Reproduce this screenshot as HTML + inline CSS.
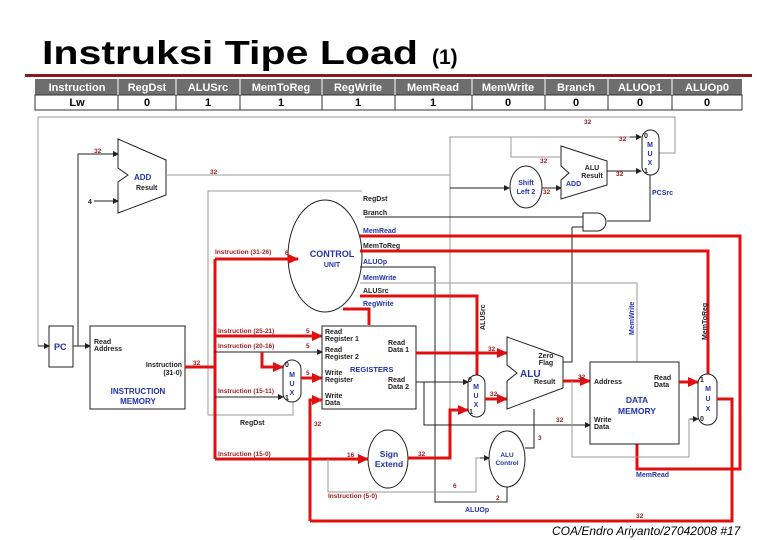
<!DOCTYPE html>
<html><head><meta charset="utf-8"><style>
body{margin:0;background:#fff;}
svg{display:block;font-family:"Liberation Sans",sans-serif;}
.t{font-size:7px;font-weight:bold;fill:#222}
.b{font-weight:bold;fill:#2233aa}
.r{font-size:6.5px;font-weight:bold;fill:#a02020}
.k{stroke:#222;stroke-width:1;fill:none}
.g{stroke:#999;stroke-width:1;fill:none}
.R{stroke:#e01010;stroke-width:3;fill:none}
</style></head><body>
<svg width="780" height="540" viewBox="0 0 780 540" xmlns="http://www.w3.org/2000/svg">
<defs>
<marker id="a" markerWidth="6" markerHeight="6" refX="5" refY="3" orient="auto" markerUnits="userSpaceOnUse"><path d="M0,0L6,3L0,6z" fill="#222"/></marker>
<marker id="ar" markerWidth="12" markerHeight="10" refX="10" refY="5" orient="auto" markerUnits="userSpaceOnUse"><path d="M0,0L11,5L0,10z" fill="#e01010"/></marker>
</defs>
<text x="42" y="64" font-size="33" font-weight="bold" fill="#000" textLength="376" lengthAdjust="spacingAndGlyphs">Instruksi Tipe Load</text>
<text x="432" y="64" font-size="21" font-weight="bold" fill="#000">(1)</text>
<rect x="25" y="74" width="727" height="3" fill="#8a1a1a"/>
<rect x="35" y="79" width="707" height="16" fill="#6e6e6e"/>
<rect x="35" y="95" width="707" height="15" fill="#fff" stroke="#333" stroke-width="1"/>
<g stroke="#fff" stroke-width="1"><line x1="118" y1="79" x2="118" y2="95"/><line x1="176" y1="79" x2="176" y2="95"/><line x1="240" y1="79" x2="240" y2="95"/><line x1="322" y1="79" x2="322" y2="95"/><line x1="395" y1="79" x2="395" y2="95"/><line x1="472" y1="79" x2="472" y2="95"/><line x1="545" y1="79" x2="545" y2="95"/><line x1="608" y1="79" x2="608" y2="95"/><line x1="672" y1="79" x2="672" y2="95"/></g>
<g stroke="#333" stroke-width="1"><line x1="118" y1="95" x2="118" y2="110"/><line x1="176" y1="95" x2="176" y2="110"/><line x1="240" y1="95" x2="240" y2="110"/><line x1="322" y1="95" x2="322" y2="110"/><line x1="395" y1="95" x2="395" y2="110"/><line x1="472" y1="95" x2="472" y2="110"/><line x1="545" y1="95" x2="545" y2="110"/><line x1="608" y1="95" x2="608" y2="110"/><line x1="672" y1="95" x2="672" y2="110"/></g>
<g font-size="11" font-weight="bold" fill="#fff" text-anchor="middle">
<text x="77" y="91">Instruction</text><text x="147" y="91">RegDst</text><text x="208" y="91">ALUSrc</text><text x="281" y="91">MemToReg</text><text x="358" y="91">RegWrite</text><text x="433" y="91">MemRead</text><text x="508" y="91">MemWrite</text><text x="576" y="91">Branch</text><text x="640" y="91">ALUOp1</text><text x="707" y="91">ALUOp0</text></g>
<g font-size="11" font-weight="bold" fill="#000" text-anchor="middle">
<text x="77" y="106">Lw</text><text x="147" y="106">0</text><text x="208" y="106">1</text><text x="281" y="106">1</text><text x="358" y="106">1</text><text x="433" y="106">1</text><text x="508" y="106">0</text><text x="576" y="106">0</text><text x="640" y="106">0</text><text x="707" y="106">0</text></g>

<path class="g" d="M38,346 V117 H675 V153 H659"/>
<path class="k" d="M38,346 H49" marker-end="url(#a)"/>
<text class="r" x="584" y="124">32</text>
<rect x="49" y="326" width="24" height="41" fill="#fff" stroke="#222"/>
<text x="54" y="350" font-size="9" class="b">PC</text>
<path class="k" d="M73,346 H90" marker-end="url(#a)"/>
<path class="k" d="M78,346 V154 H118" marker-end="url(#a)"/>
<text class="r" x="94" y="153">32</text>
<polygon points="118,139 166,160 166,195 118,213 118,182 128,175 118,168" fill="#fff" stroke="#222"/>
<text x="134" y="180" font-size="8" class="b">ADD</text>
<text x="136" y="190" class="t">Result</text>
<text x="88" y="204" class="t">4</text>
<path class="k" d="M94,201 H118" marker-end="url(#a)"/>
<path class="g" d="M166,175 H450 V137 H641" stroke="#666"/>
<path class="k" d="M630,137 H641" marker-end="url(#a)"/>
<text class="r" x="210" y="174">32</text><text class="r" x="619" y="141">32</text>
<path class="g" d="M511,137 V157 H560" stroke="#666"/>
<text class="r" x="540" y="163">32</text>
<path class="g" d="M450,175 V458" stroke="#777"/>
<path class="k" d="M450,188 H509" marker-end="url(#a)"/>
<ellipse cx="526" cy="187" rx="16" ry="21" fill="#fff" stroke="#222"/>
<text x="526" y="185" font-size="7" class="b" text-anchor="middle">Shift</text>
<text x="526" y="194" font-size="7" class="b" text-anchor="middle">Left 2</text>
<path class="k" d="M542,188 H561" marker-end="url(#a)"/>
<text class="r" x="543" y="194">32</text>
<polygon points="561,146 607,161 607,185 561,199 561,180 569,173 561,166" fill="#fff" stroke="#222"/>
<text x="592" y="170" class="t" text-anchor="middle">ALU</text><text x="592" y="178" class="t" text-anchor="middle">Result</text>
<text x="566" y="186" font-size="7" class="b">ADD</text>
<path class="k" d="M607,171 H641" marker-end="url(#a)"/>
<text class="r" x="616" y="176">32</text>
<rect x="642" y="130" width="17" height="45" rx="8.5" fill="#fff" stroke="#222"/>
<g font-size="7" font-weight="bold" text-anchor="middle"><text x="646" y="138" fill="#222">0</text><text x="650" y="147" fill="#2233aa">M</text><text x="650" y="156" fill="#2233aa">U</text><text x="650" y="165" fill="#2233aa">X</text><text x="646" y="173" fill="#222">1</text></g>
<text x="652" y="195" font-size="7" class="b">PCSrc</text>
<path class="k" d="M650,175 V221 H607"/>
<path d="M583,213 H597 A9,9 0 0 1 597,231 H583 Z" fill="#fff" stroke="#222"/>
<path class="k" d="M365,217 H583"/>
<path class="k" d="M572,227 H583 M572,227 V362 H563"/>

<path class="g" d="M362,191 H208 V415 H293 V401"/>
<ellipse cx="325" cy="256" rx="37" ry="56" fill="#fff" stroke="#222"/>
<text x="332" y="257" font-size="9" class="b" text-anchor="middle">CONTROL</text>
<text x="332" y="267" font-size="7" class="b" text-anchor="middle">UNIT</text>
<g font-size="7" font-weight="bold">
<text x="363" y="201" fill="#222">RegDst</text><text x="363" y="215" fill="#222">Branch</text>
<text x="363" y="233" fill="#2233aa">MemRead</text><text x="363" y="248" fill="#222">MemToReg</text>
<text x="363" y="264" fill="#2233aa">ALUOp</text><text x="363" y="280" fill="#2233aa">MemWrite</text>
<text x="363" y="293" fill="#222">ALUSrc</text><text x="363" y="306" fill="#2233aa">RegWrite</text></g>
<path class="R" d="M360,236 H740 V469 H637 V444" stroke-width="2"/>
<path class="R" d="M360,251 H708 V374" stroke-width="2"/>
<path class="k" d="M360,267 H435 V502 H507 V487"/>
<path class="g" d="M360,283 H637 V362" stroke="#444"/>
<path class="R" d="M360,296 H477 V375" stroke-width="2"/>
<path class="R" d="M343,309 H369 V325" stroke-width="2"/>
<text transform="translate(485,330) rotate(-90)" class="t">ALUSrc</text>
<text transform="translate(634,335) rotate(-90)" font-size="7" class="b">MemWrite</text>
<text transform="translate(707,340) rotate(-90)" class="t">MemToReg</text>

<rect x="90" y="326" width="95" height="83" fill="#fff" stroke="#222"/>
<text x="94" y="344" class="t">Read</text><text x="94" y="351" class="t">Address</text>
<text x="182" y="367" class="t" text-anchor="end">Instruction</text><text x="182" y="375" class="t" text-anchor="end">(31-0)</text>
<text x="138" y="394" font-size="8" class="b" text-anchor="middle">INSTRUCTION</text>
<text x="138" y="404" font-size="8" class="b" text-anchor="middle">MEMORY</text>
<path class="R" d="M185,367 H215"/>
<text class="r" x="193" y="365">32</text>
<path class="R" d="M215,259 V459"/>
<path class="R" d="M215,259 H298" marker-end="url(#ar)" stroke-width="2.5"/>
<text class="r" x="215" y="254">Instruction (31-26)</text><text class="r" x="285" y="255">6</text>
<path class="R" d="M215,336 H322" marker-end="url(#ar)" stroke-width="2.5"/>
<text class="r" x="218" y="333">Instruction (25-21)</text><text class="r" x="306" y="333">5</text>
<path class="k" d="M215,352 H322" marker-end="url(#a)" stroke-width="1.5"/>
<text class="r" x="218" y="348">Instruction (20-16)</text><text class="r" x="306" y="348">5</text>
<path class="R" d="M262,352 V367 H283" marker-end="url(#ar)" stroke-width="2.5"/>
<path class="k" d="M215,397 H283" marker-end="url(#a)" stroke-width="1.5"/>
<text class="r" x="218" y="393">Instruction (15-11)</text>
<text x="240" y="425" class="t">RegDst</text>
<rect x="283" y="360" width="18" height="42" rx="9" fill="#fff" stroke="#222"/>
<g font-size="7" font-weight="bold" text-anchor="middle"><text x="287" y="367" fill="#222">0</text><text x="292" y="377" fill="#2233aa">M</text><text x="292" y="386" fill="#2233aa">U</text><text x="292" y="395" fill="#2233aa">X</text><text x="287" y="400" fill="#222">1</text></g>
<path class="R" d="M301,378 H322" marker-end="url(#ar)" stroke-width="2.5"/>
<text class="r" x="306" y="375">5</text>
<rect x="322" y="326" width="94" height="83" fill="#fff" stroke="#222"/>
<g class="t"><text x="325" y="334">Read</text><text x="325" y="341">Register 1</text><text x="325" y="352">Read</text><text x="325" y="359">Register 2</text>
<text x="325" y="375">Write</text><text x="325" y="382">Register</text><text x="325" y="398">Write</text><text x="325" y="405">Data</text>
<text x="388" y="345">Read</text><text x="388" y="352">Data 1</text><text x="388" y="382">Read</text><text x="388" y="389">Data 2</text></g>
<text x="350" y="372" font-size="7.5" class="b">REGISTERS</text>
<path class="R" d="M310,521 V400 H322" marker-end="url(#ar)" stroke-width="2.5"/>
<text class="r" x="314" y="426">32</text>
<path class="R" d="M215,459 H368" marker-end="url(#ar)" stroke-width="2.5"/>
<text class="r" x="218" y="456">Instruction (15-0)</text><text class="r" x="347" y="457">16</text>
<path class="g" d="M328,459 V492 H476 V458 H489" stroke="#666"/>
<path class="k" d="M480,458 H489" marker-end="url(#a)"/>
<text class="r" x="328" y="498">Instruction (5-0)</text><text class="r" x="453" y="488">6</text>
<ellipse cx="388" cy="459" rx="20" ry="29" fill="#fff" stroke="#222"/>
<text x="389" y="457" font-size="8.5" class="b" text-anchor="middle">Sign</text>
<text x="389" y="467" font-size="8.5" class="b" text-anchor="middle">Extend</text>
<path class="R" d="M408,458 H450 V410 H468" marker-end="url(#ar)" stroke-width="2.5"/>
<text class="r" x="418" y="456">32</text>
<path class="R" d="M416,353 H507" marker-end="url(#ar)" stroke-width="2.5"/>
<text class="r" x="488" y="351">32</text>
<path class="k" d="M416,382 H468" marker-end="url(#a)"/>
<path class="k" d="M424,382 V425 H590" marker-end="url(#a)"/>
<text class="r" x="556" y="422">32</text>
<rect x="468" y="375" width="17" height="42" rx="8.5" fill="#fff" stroke="#222"/>
<g font-size="7" font-weight="bold" text-anchor="middle"><text x="470" y="382" fill="#222">0</text><text x="476" y="389" fill="#2233aa">M</text><text x="476" y="398" fill="#2233aa">U</text><text x="476" y="407" fill="#2233aa">X</text><text x="471" y="414" fill="#222">1</text></g>
<path class="R" d="M485,399 H507" marker-end="url(#ar)" stroke-width="2.5"/>
<text class="r" x="490" y="396">32</text>
<polygon points="507,337 563,357 563,388 507,409 507,381 517,373 507,365" fill="#fff" stroke="#222"/>
<text x="546" y="358" class="t" text-anchor="middle">Zero</text><text x="546" y="365" class="t" text-anchor="middle">Flag</text>
<text x="520" y="377" font-size="10" class="b">ALU</text>
<text x="534" y="384" class="t">Result</text>
<path class="R" d="M563,381 H590" marker-end="url(#ar)" stroke-width="2.5"/>
<text class="r" x="578" y="379">32</text>
<path class="g" d="M572,381 V457 H689 V419 H698" stroke="#666"/>
<path class="k" d="M690,419 H698" marker-end="url(#a)"/>
<ellipse cx="507" cy="459" rx="18" ry="28" fill="#fff" stroke="#222"/>
<text x="507" y="457" font-size="6.5" class="b" text-anchor="middle">ALU</text>
<text x="507" y="465" font-size="6.5" class="b" text-anchor="middle">Control</text>
<path class="k" d="M525,448 H534 V409"/>
<text class="r" x="538" y="440">3</text><text class="r" x="496" y="500">2</text>
<text x="465" y="512" font-size="7" class="b">ALUOp</text>
<rect x="590" y="362" width="89" height="82" fill="#fff" stroke="#222"/>
<text x="594" y="384" class="t">Address</text>
<text x="654" y="380" class="t">Read</text><text x="654" y="387" class="t">Data</text>
<text x="594" y="422" class="t">Write</text><text x="594" y="429" class="t">Data</text>
<text x="637" y="403" font-size="8.5" class="b" text-anchor="middle">DATA</text>
<text x="637" y="414" font-size="8.5" class="b" text-anchor="middle">MEMORY</text>
<text x="636" y="477" font-size="7" class="b">MemRead</text>
<path class="R" d="M679,382 H698" marker-end="url(#ar)" stroke-width="2.5"/>
<rect x="698" y="374" width="19" height="51" rx="9.5" fill="#fff" stroke="#222"/>
<g font-size="7" font-weight="bold" text-anchor="middle"><text x="702" y="382" fill="#222">1</text><text x="708" y="391" fill="#2233aa">M</text><text x="708" y="401" fill="#2233aa">U</text><text x="708" y="411" fill="#2233aa">X</text><text x="702" y="421" fill="#222">0</text></g>
<path class="R" d="M717,399 H732 V521 H310"/>
<text class="r" x="636" y="518">32</text>
<text x="552" y="535" font-size="12" font-style="italic" fill="#000">COA/Endro Ariyanto/27042008  #17</text>
</svg>
</body></html>
